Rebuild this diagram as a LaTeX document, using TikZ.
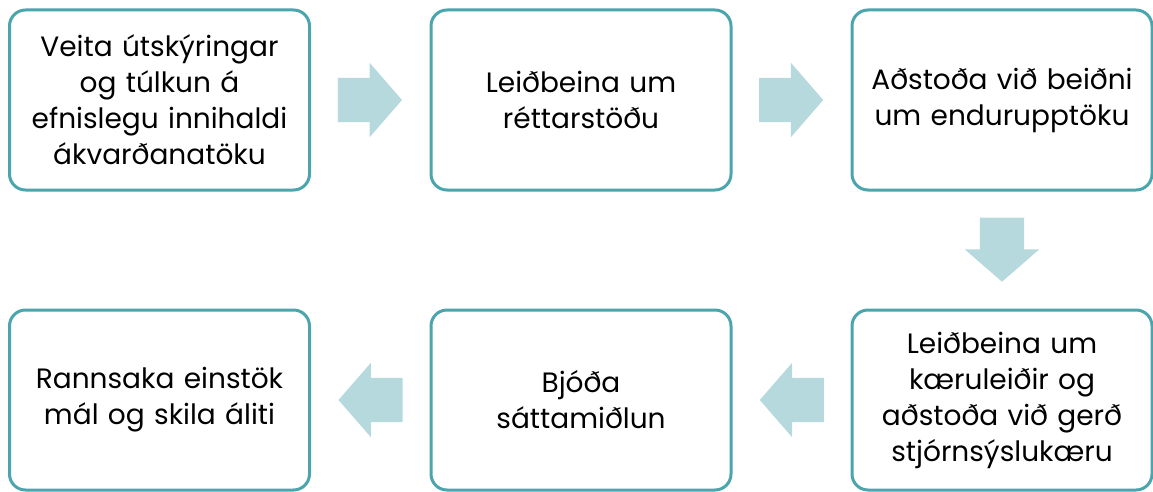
\documentclass[tikz,border=0pt]{standalone}
\usepackage{fontspec}
\setmainfont{Poppins}
\usepackage{xcolor}
\usetikzlibrary{shapes.arrows,calc}

\definecolor{boxline}{HTML}{4BA5AD}
\definecolor{arrowfill}{HTML}{B5D9DD}

\tikzset{
  stepbox/.style={draw=boxline, line width=3pt, rounded corners=16pt, fill=white,
    minimum width=300pt, minimum height=180pt, text width=290pt, inner sep=0pt,
    align=center, font=\fontsize{28}{36}\selectfont},
  blockarrow/.style={single arrow, fill=arrowfill, draw=none, anchor=tip,
    inner xsep=0pt, inner ysep=22pt, minimum height=64pt,
    single arrow head extend=15pt, single arrow tip angle=98},
}

\begin{document}
\begin{tikzpicture}[x=1pt, y=-1pt]
        \useasboundingbox (0, 0) rectangle (1153, 492);

        \node[stepbox] (b1) at (159.5, 100) {Veita útskýringar\\og túlkun á\\efnislegu innihaldi\\ákvarðanatöku};
        \node[stepbox] (b2) at (581, 100) {Leiðbeina um\\réttarstöðu};
        \node[stepbox] (b3) at (1002, 100) {Aðstoða við beiðni\\um endurupptöku};
        \node[stepbox] (b4) at (1002, 400) {Leiðbeina um\\kæruleiðir og\\aðstoða við gerð\\stjórnsýslukæru};
        \node[stepbox] (b5) at (581, 400) {Bjóða\\sáttamiðlun};
        \node[stepbox] (b6) at (159.5, 400) {Rannsaka einstök\\mál og skila áliti};

        % block arrows, placed by their tips
        \node[blockarrow] (a12) at ($(b1.east)!0.5!(b2.west)+(32, 0)$) {};
        \node[blockarrow] (a23) at ($(b2.east)!0.5!(b3.west)+(32, 0)$) {};
        \node[blockarrow, rotate=-90] (a34) at ($(b3.south)!0.5!(b4.north)+(0, 32)$) {};
        \node[blockarrow, rotate=180] (a45) at ($(b4.west)!0.5!(b5.east)+(-32, 0)$) {};
        \node[blockarrow, rotate=180] (a56) at ($(b5.west)!0.5!(b6.east)+(-32, 0)$) {};
    \end{tikzpicture}
\end{document}
